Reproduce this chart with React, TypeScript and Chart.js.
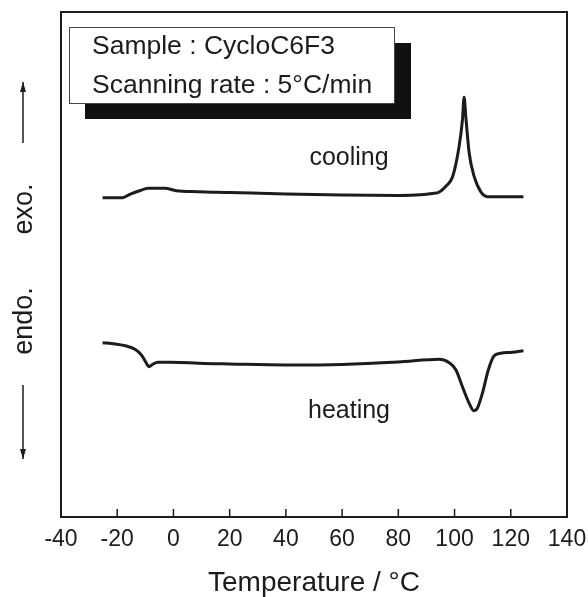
import React, { useEffect, useRef } from 'react';
import { Chart, registerables } from 'chart.js';

Chart.register(...registerables);

// Temperature axis (°C)
const temperatureTicks = [-40, -20, 0, 20, 40, 60, 80, 100, 120, 140];

// Cooling run: temperature (°C) and heat flow (a.u.)
const coolingT = [-25.2, -18.1, -15.5, -12, -9, -3.1, 1, 8.6, 20, 40, 60, 80, 88, 92, 94.6, 97, 99.3, 101.6, 102.8, 103.4, 104, 105.2, 107, 109.3, 111.7, 124.5];
const coolingHF = [63.23, 63.23, 63.9, 64.61, 65.09, 65.09, 64.61, 64.42, 64.26, 63.96, 63.76, 63.66, 63.8, 64.06, 64.36, 65.54, 67.39, 73.33, 78.61, 83.11, 79.27, 72.08, 67.39, 64.42, 63.43, 63.43];

// Heating run: temperature (°C) and heat flow (a.u.)
const heatingT = [-25.2, -20.8, -16.7, -13.7, -11.4, -9.6, -8.8, -7.2, -5.5, -1.3, 5.8, 9.3, 20, 40, 60, 80, 94.6, 98.1, 100.5, 102.8, 105.2, 106.8, 108.1, 109.9, 112, 114, 116.4, 120.5, 124.5];
const heatingHF = [34.51, 34.26, 33.86, 33.21, 32.08, 30.44, 29.76, 30.3, 30.63, 30.63, 30.55, 30.44, 30.3, 30.1, 30.2, 30.69, 31.23, 30.55, 29.11, 25.8, 22.51, 21.05, 21.52, 24.5, 29.11, 31.88, 32.42, 32.61, 32.93];

const seriesLabels = ['cooling', 'heating'];
const legendLines = ['Sample : CycloC6F3', 'Scanning rate : 5°C/min'];
const xTitle = 'Temperature / °C';
const yLabels = ['exo.', 'endo.'];

const FONT = '"Liberation Sans", Arial, Helvetica, sans-serif';
const INK = '#1c1c1c';

function arrow(ctx: CanvasRenderingContext2D, x: number, y0: number, y1: number) {
  ctx.beginPath();
  ctx.moveTo(x, y0);
  ctx.lineTo(x, y1);
  ctx.stroke();
  const dir = y1 < y0 ? -1 : 1;
  ctx.beginPath();
  ctx.moveTo(x, y1);
  ctx.lineTo(x - 3, y1 - dir * 10);
  ctx.lineTo(x + 3, y1 - dir * 10);
  ctx.closePath();
  ctx.fill();
}

const decor = {
  id: 'decor',
  afterDatasetsDraw(chart: any) {
    const { ctx, chartArea: a, scales } = chart;
    const x = scales.x;
    ctx.save();
    ctx.strokeStyle = INK;
    ctx.fillStyle = INK;
    ctx.lineWidth = 2;
    ctx.strokeRect(a.left, a.top, a.right - a.left, a.bottom - a.top);
    ctx.lineWidth = 1.5;
    x.ticks.forEach((t: any) => {
      const px = x.getPixelForValue(t.value);
      ctx.beginPath();
      ctx.moveTo(px, a.bottom);
      ctx.lineTo(px, a.bottom - 8);
      ctx.stroke();
    });

    // legend box with shadow
    ctx.fillStyle = '#111';
    ctx.fillRect(85, 43, 326, 76);
    ctx.fillStyle = '#fff';
    ctx.fillRect(69, 27, 325, 76);
    ctx.lineWidth = 1;
    ctx.strokeStyle = '#444';
    ctx.strokeRect(69.5, 27.5, 325, 76);

    ctx.fillStyle = INK;
    ctx.font = `26.5px ${FONT}`;
    ctx.textBaseline = 'middle';
    ctx.textAlign = 'left';
    ctx.fillText(legendLines[0], 92, 47);
    ctx.fillText(legendLines[1], 92, 86);

    // series labels
    ctx.font = `25px ${FONT}`;
    ctx.textAlign = 'center';
    ctx.fillText(seriesLabels[0], 349, 158);
    ctx.fillText(seriesLabels[1], 349, 411);

    // y labels rotated
    ctx.font = `27px ${FONT}`;
    ctx.save();
    ctx.translate(25, 209);
    ctx.rotate(-Math.PI / 2);
    ctx.fillText(yLabels[0], 0, 0);
    ctx.restore();
    ctx.save();
    ctx.translate(25, 321);
    ctx.rotate(-Math.PI / 2);
    ctx.fillText(yLabels[1], 0, 0);
    ctx.restore();

    // arrows
    ctx.strokeStyle = INK;
    ctx.fillStyle = INK;
    ctx.lineWidth = 1.5;
    arrow(ctx, 23, 143, 82);
    arrow(ctx, 23, 385, 459);
    ctx.restore();
  },
};

export default function App() {
  const ref = useRef<HTMLCanvasElement>(null);
  useEffect(() => {
    if (!ref.current) return;
    const chart = new Chart(ref.current, {
      type: 'line',
      data: {
        datasets: [
          {
            label: seriesLabels[0],
            data: coolingT.map((t, i) => ({ x: t, y: coolingHF[i] })),
            borderColor: INK,
            borderWidth: 3,
            pointRadius: 0,
            cubicInterpolationMode: 'monotone',
            fill: false,
          },
          {
            label: seriesLabels[1],
            data: heatingT.map((t, i) => ({ x: t, y: heatingHF[i] })),
            borderColor: INK,
            borderWidth: 3,
            pointRadius: 0,
            cubicInterpolationMode: 'monotone',
            fill: false,
          },
        ],
      },
      options: {
        responsive: false,
        animation: false,
        devicePixelRatio: 1,
        layout: { padding: { left: 61, right: 21, top: 12, bottom: 0 } },
        plugins: { legend: { display: false }, tooltip: { enabled: false } },
        scales: {
          x: {
            type: 'linear',
            min: temperatureTicks[0],
            max: temperatureTicks[temperatureTicks.length - 1],
            afterBuildTicks: (s: any) => {
              s.ticks = temperatureTicks.map((v) => ({ value: v }));
            },
            afterFit: (s: any) => {
              s.height = 80;
              s.paddingLeft = 0;
              s.paddingRight = 0;
            },
            grid: { display: false, drawTicks: false },
            border: { display: false },
            ticks: {
              color: INK,
              font: { family: FONT, size: 23 },
              padding: 9,
              maxRotation: 0,
              autoSkip: false,
            },
            title: {
              display: true,
              text: xTitle,
              color: INK,
              font: { family: FONT, size: 28, lineHeight: 1 },
              padding: { top: 0, bottom: 0 },
            },
          },
          y: {
            type: 'linear',
            min: 0,
            max: 100,
            display: false,
          },
        },
      },
      plugins: [decor],
    } as any);
    return () => chart.destroy();
  }, []);
  return (
    <div style={{ position: 'fixed', left: 0, top: 0, width: 588, height: 597, background: '#fff' }}>
      <canvas ref={ref} width={588} height={597} style={{ display: 'block' }} />
    </div>
  );
}
